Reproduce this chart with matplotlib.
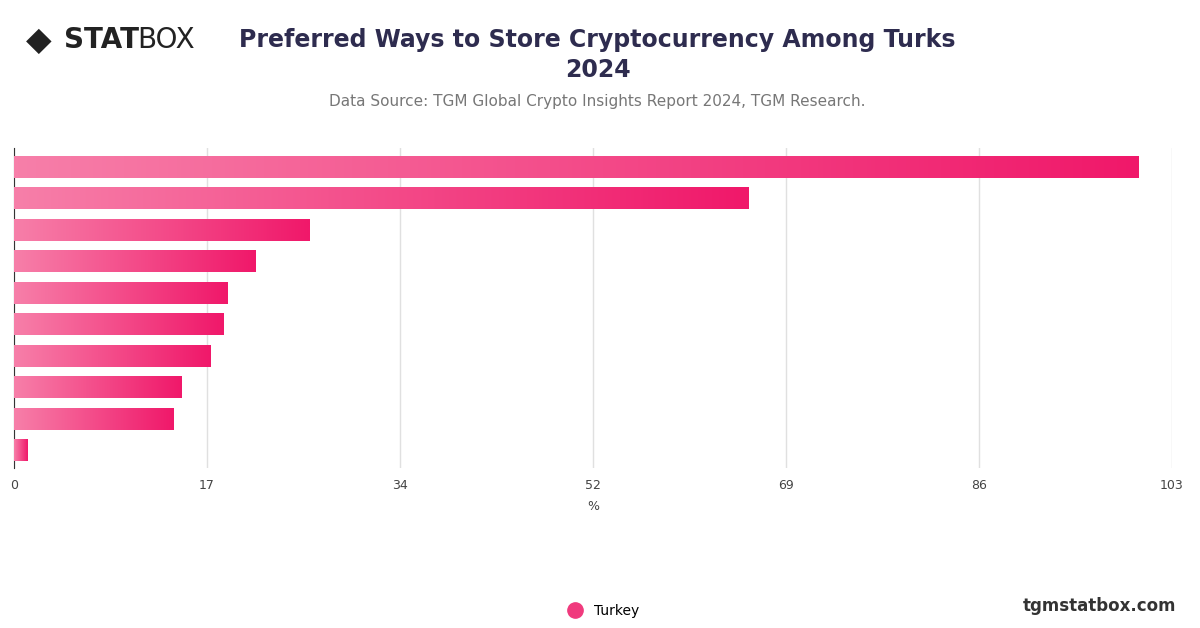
import matplotlib
matplotlib.use("Agg")
import matplotlib.pyplot as plt
import numpy as np
from matplotlib.colors import LinearSegmentedColormap

values = [100, 65.3, 26.3, 21.5, 19.0, 18.6, 17.5, 14.9, 14.2, 1.2]
ticks = [0, 17, 34, 52, 69, 86, 103]
tick_pos = [103 * i / 6 for i in range(7)]
series = "Turkey"

fig = plt.figure(figsize=(12, 6.28), dpi=100)
ax = fig.add_axes([0.0117, 0.255, 0.9650, 0.509])
y = np.arange(len(values))
bars = ax.barh(y, values, height=0.68, color="none")
cmap = LinearSegmentedColormap.from_list("g", ["#f77fa9", "#f0186a"])
grad = np.linspace(0, 1, 256).reshape(1, -1)
for b in bars:
    x0, y0, w, h = b.get_x(), b.get_y(), b.get_width(), b.get_height()
    ax.imshow(grad, cmap=cmap, extent=(x0, x0 + w, y0, y0 + h), aspect="auto", zorder=3)
ax.set_xlim(0, 103)
ax.set_ylim(len(values) - 0.45, -0.6)
ax.set_xticks(tick_pos)
ax.set_xticklabels([str(t) for t in ticks], fontsize=9, color="#444")
ax.set_yticks([])
ax.grid(axis="x", color="#e0e0e0", lw=1)
ax.set_axisbelow(True)
for s in ["top", "right", "bottom"]:
    ax.spines[s].set_visible(False)
ax.spines["left"].set_color("#333")
ax.tick_params(axis="x", length=0, pad=8)
ax.set_xlabel("%", fontsize=9, color="#444", labelpad=6)

fig.text(0.498, 0.936, "Preferred Ways to Store Cryptocurrency Among Turks", ha="center",
         va="center", fontsize=17, fontweight="bold", color="#2e2c4f")
fig.text(0.498, 0.888, "2024", ha="center", va="center", fontsize=17, fontweight="bold", color="#2e2c4f")
fig.text(0.498, 0.838, "Data Source: TGM Global Crypto Insights Report 2024, TGM Research.",
         ha="center", va="center", fontsize=11, color="#777")
fig.text(0.022, 0.936, "◆", fontsize=24, color="#222", va="center")
fig.text(0.053, 0.936, "STAT", fontsize=20, fontweight="bold", color="#222", va="center")
fig.text(0.114, 0.936, "BOX", fontsize=20, color="#222", va="center")
fig.text(0.98, 0.035, "tgmstatbox.com", ha="right", va="center", fontsize=12, fontweight="bold", color="#333")
fig.legend(handles=[plt.Line2D([], [], ls="", marker="o", ms=11, color="#f03a7d")],
           labels=[series], loc="center", bbox_to_anchor=(0.5, 0.027), frameon=False,
           fontsize=10, handletextpad=0.4)
fig.savefig("out.png", dpi=100)
